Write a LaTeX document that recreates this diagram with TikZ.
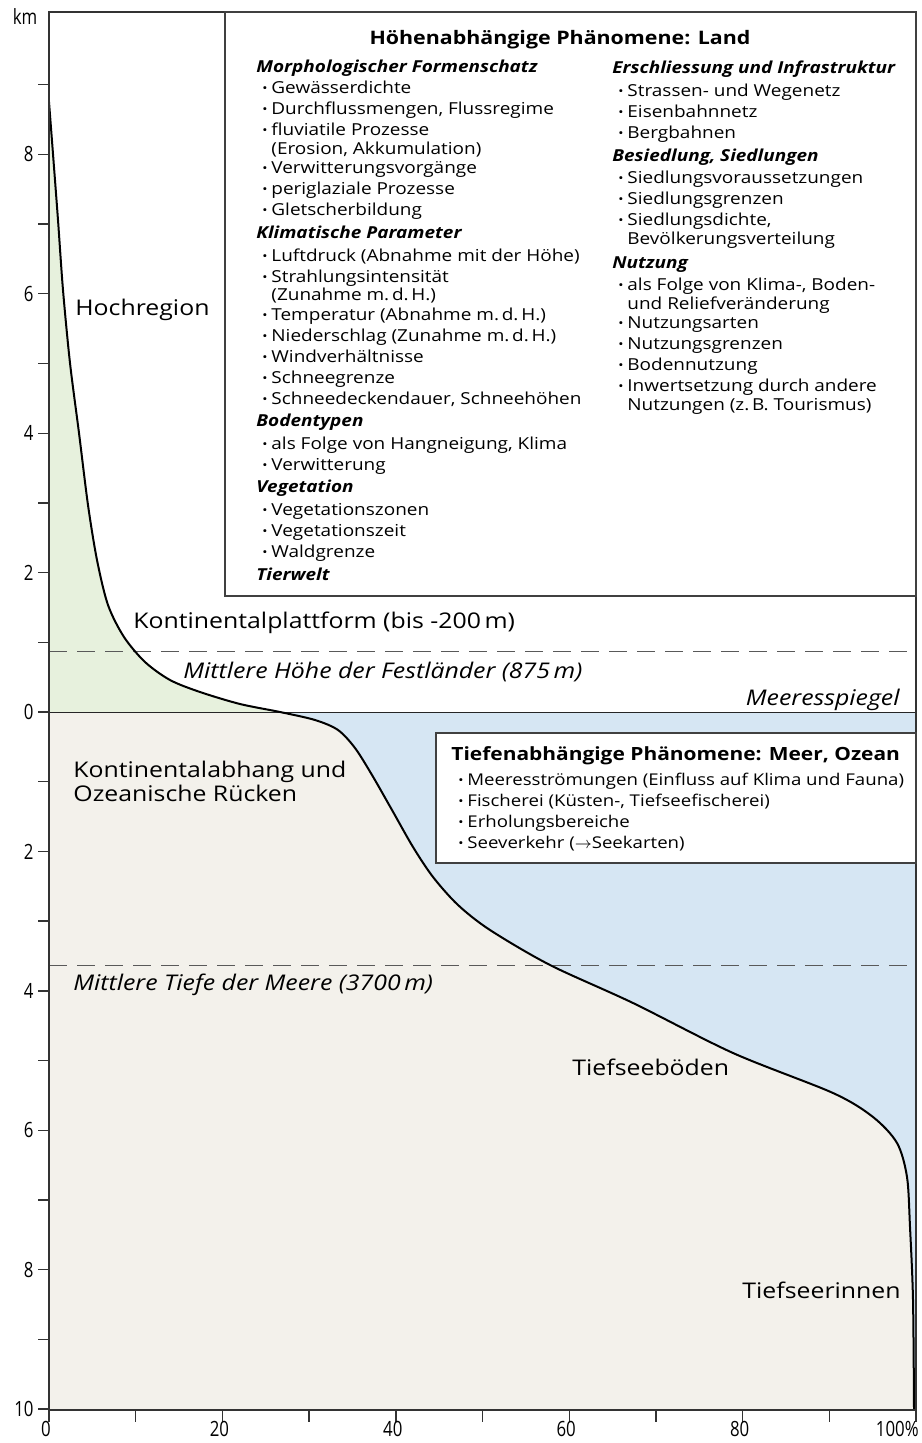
\documentclass[tikz,border=0pt]{standalone}
\usepackage{fontspec}
\setmainfont{Open Sans}[FakeStretch=1.15]
\newfontfamily\axisfont{Open Sans}[FakeStretch=0.8]
\definecolor{landgreen}{RGB}{231,241,221}
\definecolor{seablue}{RGB}{214,230,243}
\definecolor{floorbeige}{RGB}{243,241,235}
\newcommand{\hdg}[1]{\textbf{\textit{#1}}}
\newcommand{\itm}{\hspace*{3pt}\makebox[4.5pt][l]{\raisebox{0.5pt}{\fontsize{6}{6}\selectfont\textbullet}}}
\newcommand{\cnt}{\hspace*{7.5pt}}
\begin{document}
\begin{tikzpicture}
    [x=0.5pt, y=-0.5pt,
     frame/.style={draw=black!80, line width=0.7pt},
     infobox/.style={draw=black!75, fill=white, line width=0.7pt},
     meanline/.style={draw=black!65, dash pattern=on 9pt off 5pt, line width=0.5pt},
     zonetext/.style={inner sep=0pt, anchor=base west, font=\fontsize{10.8}{10}\selectfont},
     itemlist/.style={inner sep=0pt, anchor=north west, align=left, font=\fontsize{8.25}{10.5}\selectfont},
     boxtitle/.style={inner sep=0pt, font=\fontsize{9.3}{12}\selectfont\bfseries},
     axisnum/.style={inner sep=0pt, font=\fontsize{10.5}{12}\selectfont\axisfont}]
    \def \xo {49}
    \def \yo {712}
    \def \km {69.7}
    \def \pct {8.67}
    \def \hypso {plot[smooth, tension=0.5] coordinates {(49,102) (53,154) (58,220) (63,290) (70,363) (79,433)
      (88,505) (97,560) (108,605) (124,637) (145,662) (170,680) (200,692) (240,704) (280,712) (315,720)
      (338,730) (355,748) (372,775) (392,810) (413,847) (433,877) (458,905) (490,930) (550,965) (633,1003)
      (733,1053) (833,1093) (873,1117) (897,1143) (907,1177) (910,1227) (913,1300) (914,1410)}}

    \useasboundingbox (0,0) rectangle (921,1443);

    % land above sea level, sea floor, water
    \begin{scope}
      \clip (\xo,12) rectangle (916,\yo);
      \fill[landgreen] \hypso -- (\xo,1410) -- cycle;
    \end{scope}
    \begin{scope}
      \clip (\xo,\yo) rectangle (916,1410);
      \fill[floorbeige] \hypso -- (\xo,1410) -- cycle;
      \fill[seablue] \hypso -- (916,1410) -- (916,12) -- cycle;
    \end{scope}

    \draw[meanline] (\xo,651) -- (916,651);
    \draw[meanline] (\xo,965) -- (916,965);
    \draw[black!85, line width=0.5pt] (\xo,\yo) -- (916,\yo);
    \draw[line width=1pt] \hypso;

    % frame and ticks
    \draw[frame] (\xo,12) rectangle (916,1410);
    \foreach \k in {1,...,9}
    {
      \draw[frame] (38,{\yo-\k*\km}) -- (\xo,{\yo-\k*\km});
    }
    \foreach \k in {0,...,10}
    {
      \draw[frame] (38,{\yo+\k*\km}) -- (\xo,{\yo+\k*\km});
    }
    \foreach \k in {2,4,6,8}
      \node[axisnum, anchor=east] (up\k) at (34,{\yo-\k*\km}) {\k};
    \foreach \k in {0,2,...,10}
      \node[axisnum, anchor=east] (dn\k) at (34,{\yo+\k*\km}) {\k};
    \node[axisnum] (unit) at (25,17) {km};
    \foreach \p in {0,10,...,100}
      \draw[frame] ({\xo+\p*\pct},1410) -- ++(0,12);
    \foreach \p in {0,20,...,80}
      \node[axisnum, anchor=north] (x\p) at ({\xo+\p*\pct-3},1421) {\p};
    \node[axisnum, anchor=north east] (x100) at (919,1421) {100\%};

    % land phenomena
    \draw[infobox] (225,12) rectangle (916,596);
    \node[boxtitle, anchor=base] (landtitle) at (560,45) {Höhenabhängige Phänomene: Land};
    \node[itemlist] (landleft) at (256,60) {\hdg{Morphologischer Formenschatz}\\
      \itm Gewässerdichte\\
      \itm Durchflussmengen, Flussregime\\
      \itm fluviatile Prozesse\\[-1.2pt]
      \cnt(Erosion, Akkumulation)\\[-0.8pt]
      \itm Verwitterungsvorgänge\\
      \itm periglaziale Prozesse\\
      \itm Gletscherbildung\\[0.8pt]
      \hdg{Klimatische Parameter}\\[0.8pt]
      \itm Luftdruck (Abnahme mit der Höhe)\\
      \itm Strahlungsintensität\\[-1.2pt]
      \cnt(Zunahme m.\,d.\,H.)\\[-0.8pt]
      \itm Temperatur (Abnahme m.\,d.\,H.)\\
      \itm Niederschlag (Zunahme m.\,d.\,H.)\\
      \itm Windverhältnisse\\
      \itm Schneegrenze\\
      \itm Schneedeckendauer, Schneehöhen\\[0.8pt]
      \hdg{Bodentypen}\\[0.8pt]
      \itm als Folge von Hangneigung, Klima\\
      \itm Verwitterung\\[0.8pt]
      \hdg{Vegetation}\\[0.8pt]
      \itm Vegetationszonen\\
      \itm Vegetationszeit\\
      \itm Waldgrenze\\[0.8pt]
      \hdg{Tierwelt}};
    \node[itemlist] (landright) at (612,60) {\hdg{Erschliessung und Infrastruktur}\\[1pt]
      \itm Strassen- und Wegenetz\\
      \itm Eisenbahnnetz\\
      \itm Bergbahnen\\[1pt]
      \hdg{Besiedlung, Siedlungen}\\[0.8pt]
      \itm Siedlungsvoraussetzungen\\
      \itm Siedlungsgrenzen\\
      \itm Siedlungsdichte,\\[-1.2pt]
      \cnt Bevölkerungsverteilung\\[1.5pt]
      \hdg{Nutzung}\\[0.8pt]
      \itm als Folge von Klima-, Boden-\\[-1.2pt]
      \cnt und Reliefveränderung\\[-0.8pt]
      \itm Nutzungsarten\\
      \itm Nutzungsgrenzen\\
      \itm Bodennutzung\\
      \itm Inwertsetzung durch andere\\[-1.2pt]
      \cnt Nutzungen (z.\,B. Tourismus)};

    % sea phenomena
    \draw[infobox] (436,733) rectangle (916,863);
    \node[boxtitle, anchor=base west, font=\fontsize{9.1}{12}\selectfont\bfseries] (seatitle) at (451,760) {Tiefenabhängige Phänomene: Meer, Ozean};
    \node[itemlist, font=\fontsize{8.1}{10.5}\selectfont] (sealist) at (452,773) {\itm Meeresströmungen (Einfluss auf Klima und Fauna)\\
      \itm Fischerei (Küsten-, Tiefseefischerei)\\
      \itm Erholungsbereiche\\
      \itm Seeverkehr ($\rightarrow$Seekarten)};

    % zones and levels
    \node[zonetext] (hoch) at (75,316) {Hochregion};
    \node[zonetext] (platt) at (133,628) {Kontinentalplattform (bis -200\,m)};
    \node[zonetext, font=\fontsize{10.8}{10}\selectfont\itshape] (meanhigh) at (183,678) {Mittlere Höhe der Festländer (875\,m)};
    \node[zonetext, anchor=base east, font=\fontsize{10.8}{10}\selectfont\itshape] (sealevel) at (900,705) {Meeresspiegel};
    \node[zonetext, anchor=north west, align=left] (slope) at (73,761) {Kontinentalabhang und\\Ozeanische Rücken};
    \node[zonetext, font=\fontsize{10.8}{10}\selectfont\itshape] (meandeep) at (73,990) {Mittlere Tiefe der Meere (3700\,m)};
    \node[zonetext] (floor) at (572,1075) {Tiefseeböden};
    \node[zonetext] (trench) at (742,1298) {Tiefseerinnen};
\end{tikzpicture}
\end{document}
